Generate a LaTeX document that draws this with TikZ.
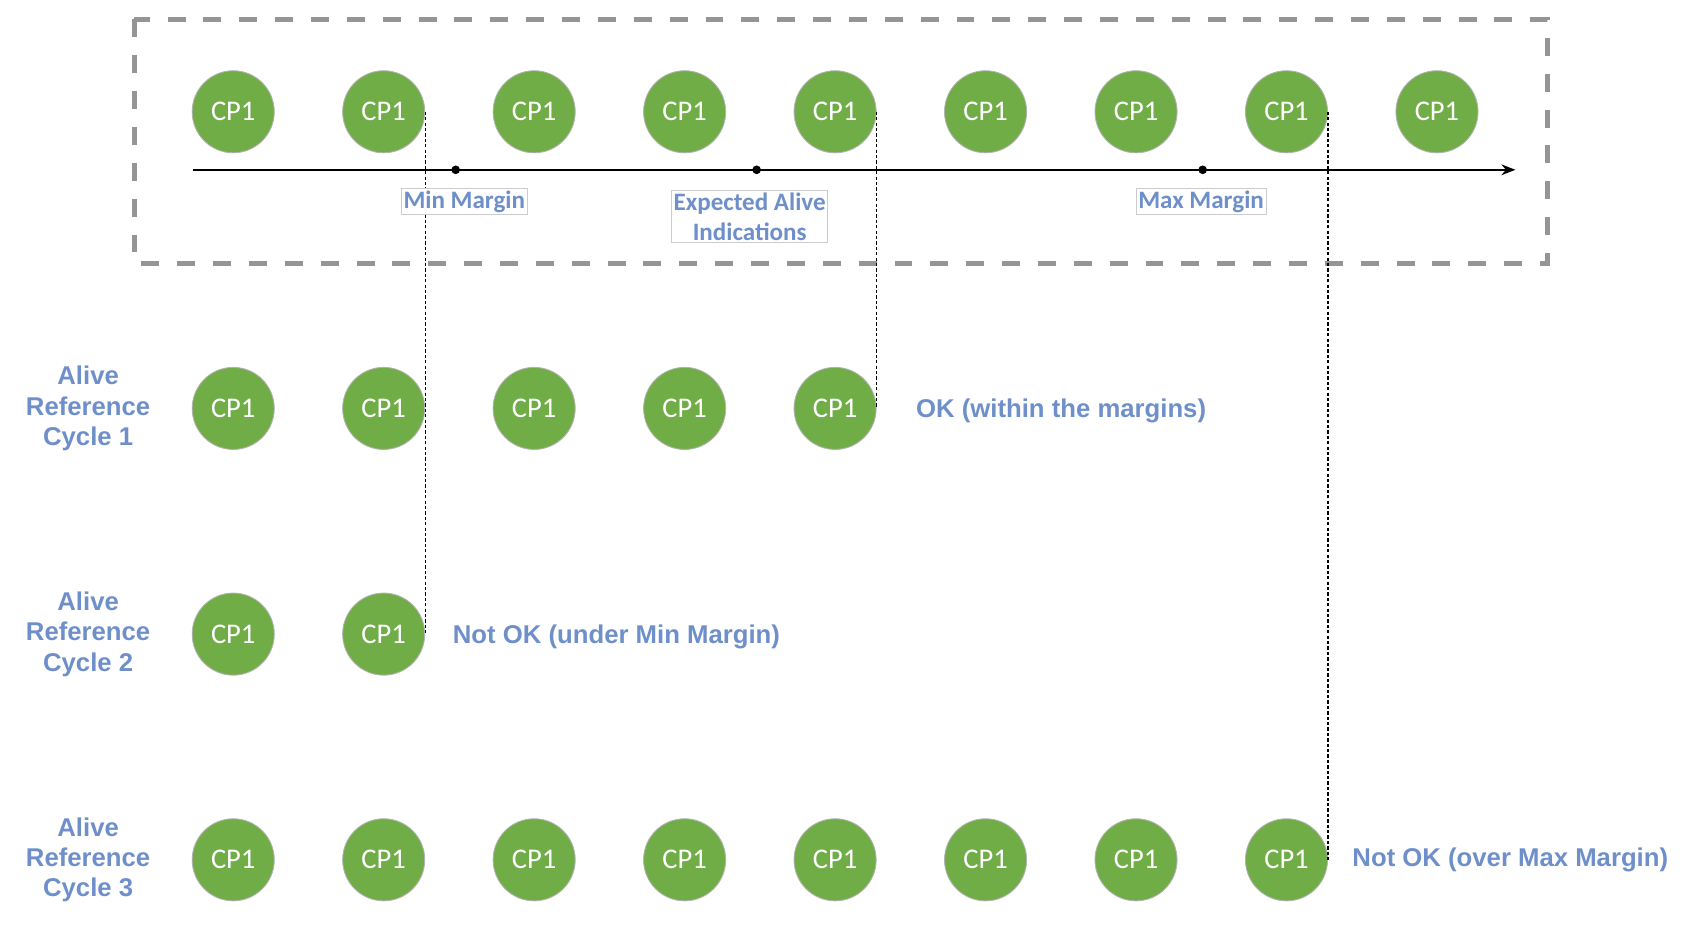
\documentclass[tikz,border=0pt]{standalone}
\usepackage{fontspec}
\setmainfont{Liberation Sans}
\newfontfamily\cpfont{Carlito}
\usetikzlibrary{arrows.meta,positioning}

\definecolor{cpgreen}{HTML}{70AD47}
\definecolor{lblblue}{HTML}{6E8FC9}
\definecolor{framegray}{HTML}{959595}

\tikzset{
cp/.style={circle,fill=cpgreen,draw=gray!60,line width=0.4pt,
  minimum size=38pt,inner sep=0pt,text=white,
  font=\cpfont\fontsize{13.2}{15}\selectfont},
marginlbl/.style={draw=gray!40,fill=white,line width=0.4pt,inner sep=1pt,
  text=lblblue,align=center,
  font=\cpfont\bfseries\fontsize{11.6}{14}\selectfont},
cyclelbl/.style={text=lblblue,align=center,inner sep=0pt,
  font=\bfseries\fontsize{11.9}{14}\selectfont},
result/.style={text=lblblue,anchor=base west,inner sep=0pt,
  font=\bfseries\fontsize{11.9}{14}\selectfont},
tick/.style={circle,fill=black,inner sep=0pt,minimum size=4pt},
guide/.style={dash pattern=on 1.5pt off 1pt,line width=0.6pt}
}

\begin{document}
\begin{tikzpicture}[x=0.4975pt,y=-0.4975pt]
\useasboundingbox (0,0) rectangle (1567.8,875.4);

% expected timeline
\draw[framegray,line width=2.3pt,dash pattern=on 8.3pt off 8.3pt] (125,18) rectangle (1440,245);
\foreach \i in {1,...,9}
  \node[cp] (t\i) at (77+140*\i,104) {CP1};
\coordinate (axs) at (180,158);
\coordinate (axe) at (1410,158);
\draw[-{Stealth[length=6.5pt,width=5pt]},line width=0.7pt] (axs) -- (axe);
\node[tick] (dmin) at (424,158) {};
\node[tick] (dexp) at (704,158) {};
\node[tick] (dmax) at (1119,158) {};

% cycles
\node[cyclelbl] (cyc1) at (82,380) {Alive\\Reference\\Cycle 1};
\node[cyclelbl] (cyc2) at (82,590) {Alive\\Reference\\Cycle 2};
\node[cyclelbl] (cyc3) at (82,800) {Alive\\Reference\\Cycle 3};
\foreach \i in {1,...,5}
  \node[cp] (a\i) at (77+140*\i,380) {CP1};
\foreach \i in {1,2}
  \node[cp] (b\i) at (77+140*\i,590) {CP1};
\foreach \i in {1,...,8}
  \node[cp] (c\i) at (77+140*\i,800) {CP1};

\draw[guide] (t2.east) -- (b2.east);
\draw[guide] (t5.east) -- (a5.east);
\draw[guide] (t8.east) -- (c8.east);

\node[marginlbl] (lmin) at (432,187.5) {Min Margin};
\node[marginlbl] (lexp) at (697.5,201.5) {Expected Alive\\Indications};
\node[marginlbl] (lmax) at (1117.5,187.5) {Max Margin};

\node[result] (ok1) at (852,388.5) {OK (within the margins)};
\node[result] (nok2) at (421,598.5) {Not OK (under Min Margin)};
\node[result] (nok3) at (1258,806.5) {Not OK (over Max Margin)};
\end{tikzpicture}
\end{document}
